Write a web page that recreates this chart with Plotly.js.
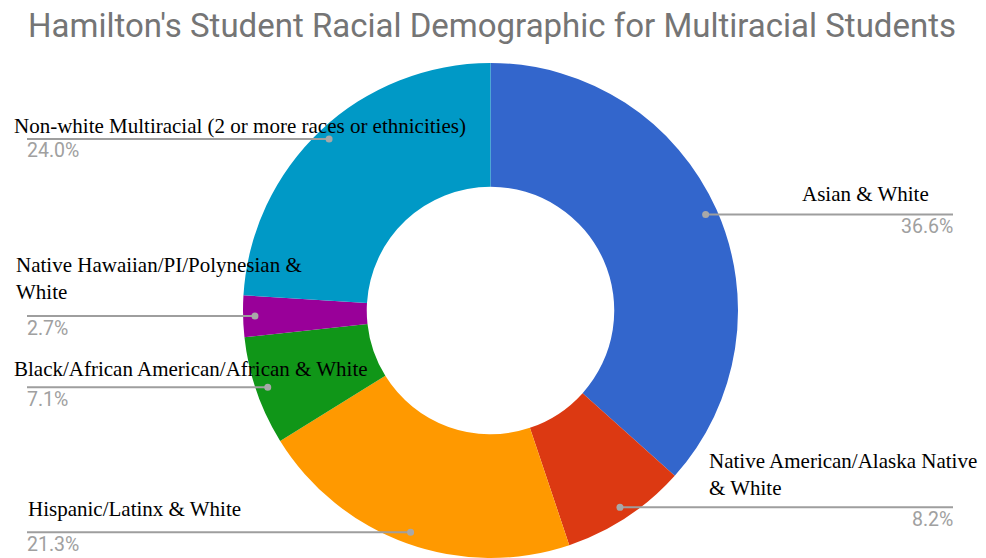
<!DOCTYPE html>
<html>
<head>
<meta charset="utf-8">
<script src="https://cdn.plot.ly/plotly-3.0.1.min.js"></script>
<style>html,body{margin:0;padding:0;background:#fff;}#chart{width:986px;height:558px;}</style>
</head>
<body>
<div id="chart"></div>
<script>
// ---- data ----
const categories = [
  'Asian & White',
  'Native American/Alaska Native & White',
  'Hispanic/Latinx & White',
  'Black/African American/African & White',
  'Native Hawaiian/PI/Polynesian & White',
  'Non-white Multiracial (2 or more races or ethnicities)'
];
const labelLines = [
  'Asian & White',
  'Native American/Alaska Native<br>& White',
  'Hispanic/Latinx & White',
  'Black/African American/African & White',
  'Native Hawaiian/PI/Polynesian &<br>White',
  'Non-white Multiracial (2 or more races or ethnicities)'
];
const values = [36.6, 8.2, 21.3, 7.1, 2.7, 24.0];
const colors = ['#3366cc', '#dc3912', '#ff9900', '#109618', '#990099', '#0099c6'];

// ---- layout (label placement, pixel units) ----
const W = 986, H = 558;
const side = ['right', 'right', 'left', 'left', 'left', 'left'];
const labelX = [931, 707, 26, 12, 14, 12];
const labelAnchor = ['right', 'left', 'left', 'left', 'left', 'left'];
const labelDy = [-20, -33, -23, -18, -38, -13];
const leftLineX = 27, rightLineX = 953;
const pieLeft = 242.5, pieRight = 738.5, pieBottom = 0, pieTop = 495;
const R = (pieRight - pieLeft) / 2;
const cx = (pieLeft + pieRight) / 2;
const cy = H - (pieBottom + pieTop) / 2;
const dotR = R * 0.95;

const px = x => x / W;
const py = y => 1 - y / H;

const total = values.reduce((a, b) => a + b, 0);
let cum = 0;
const shapes = [];
const annotations = [];
values.forEach((v, i) => {
  const theta = 2 * Math.PI * (cum + v / 2) / total;
  cum += v;
  const dx = cx + dotR * Math.sin(theta);
  const dy = cy - dotR * Math.cos(theta);
  const x0 = side[i] === 'left' ? leftLineX : dx;
  const x1 = side[i] === 'left' ? dx : rightLineX;
  shapes.push({type: 'line', xref: 'paper', yref: 'paper',
    x0: px(x0), x1: px(x1), y0: py(dy), y1: py(dy),
    line: {color: '#9e9e9e', width: 2}});
  shapes.push({type: 'circle', xref: 'paper', yref: 'paper',
    x0: px(dx - 3.5), x1: px(dx + 3.5), y0: py(dy - 3.5), y1: py(dy + 3.5),
    fillcolor: '#a8a8a8', line: {width: 0}});
  annotations.push({xref: 'paper', yref: 'paper', showarrow: false,
    x: px(labelX[i]), xanchor: labelAnchor[i],
    y: py(dy + labelDy[i]), yanchor: 'middle', align: 'left',
    text: labelLines[i],
    font: {family: 'Liberation Serif, Times New Roman, serif', size: 21, color: '#000000'}});
  annotations.push({xref: 'paper', yref: 'paper', showarrow: false,
    x: px(side[i] === 'left' ? leftLineX - 2 : rightLineX + 2),
    xanchor: side[i] === 'left' ? 'left' : 'right',
    y: py(dy + 12), yanchor: 'middle',
    text: v.toFixed(1) + '%',
    font: {family: 'Roboto, Arial, sans-serif', size: 19.5, color: '#a0a0a0'}});
});

const trace = {
  type: 'pie',
  labels: categories,
  values: values,
  marker: {colors: colors, line: {width: 0}},
  hole: 0.5,
  sort: false,
  direction: 'clockwise',
  rotation: 0,
  textinfo: 'none',
  hoverinfo: 'none',
  showlegend: false,
  domain: {x: [px(pieLeft), px(pieRight)], y: [pieBottom / H, pieTop / H]}
};

const layout = {
  width: W, height: H,
  margin: {l: 0, r: 0, t: 0, b: 0},
  paper_bgcolor: '#ffffff',
  showlegend: false,
  title: {
    text: "Hamilton's Student Racial Demographic for Multiracial Students",
    font: {family: 'Roboto, Arial, sans-serif', size: 33, color: '#757575'},
    x: px(28), xref: 'paper', xanchor: 'left',
    y: 1 - 25 / H, yref: 'container', yanchor: 'middle'
  },
  shapes: shapes,
  annotations: annotations
};

Plotly.newPlot('chart', [trace], layout, {displayModeBar: false, staticPlot: true});
</script>
</body>
</html>
